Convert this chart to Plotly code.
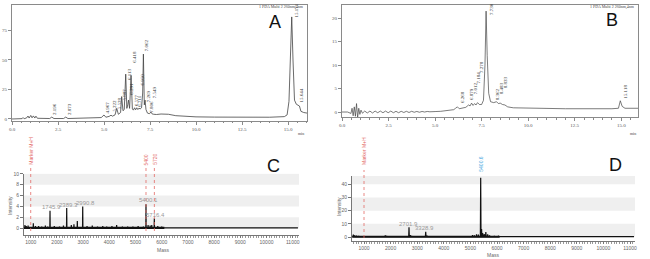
import plotly.graph_objects as go

# ---------------- Panel A : chromatogram ----------------
a_time = [
    0.00, 0.40, 0.55, 0.60, 0.66, 0.80, 0.87, 0.93, 1.02, 1.09,
    1.16, 1.24, 1.30, 1.38, 1.60, 2.05, 2.16, 2.28, 2.80, 2.92,
    3.04, 3.60, 4.40, 4.85, 5.00, 5.10, 5.28, 5.38, 5.46, 5.60,
    5.69, 5.78, 5.90, 5.96, 6.03, 6.10, 6.18, 6.24, 6.29, 6.33,
    6.39, 6.47, 6.54, 6.60, 6.66, 6.72, 6.78, 6.84, 6.90, 6.96,
    7.04, 7.10, 7.14, 7.19, 7.23, 7.28, 7.36, 7.46, 7.56, 7.62,
    7.70, 7.85, 8.10, 8.50, 8.90, 9.40, 10.0, 11.0, 12.5, 14.0,
    14.8, 14.95, 15.05, 15.13, 15.20, 15.27, 15.35, 15.45, 15.55, 15.62,
    15.70, 15.85, 16.03]
a_abs = [
    0.0, 0.0, 0.3, 1.2, 0.2, 1.0, 2.5, 0.8, 3.0, 1.0,
    2.6, 0.8, 2.4, 0.6, 0.4, 0.4, 1.6, 0.4, 0.4, 1.6,
    0.4, 0.5, 0.8, 1.2, 3.4, 1.5, 2.2, 3.2, 2.4, 3.5,
    9.0, 4.0, 5.5, 19.0, 7.0, 8.0, 38.0, 9.0, 12.0, 16.0,
    9.0, 37.0, 8.5, 7.5, 9.5, 7.8, 9.5, 8.0, 9.2, 8.5,
    9.5, 22.0, 55.0, 12.0, 16.0, 8.0, 5.0, 4.5, 5.8, 4.2,
    4.0, 3.8, 4.2, 4.0, 2.8, 2.2, 1.8, 1.6, 1.5, 1.5,
    2.0, 3.5, 15.0, 60.0, 86.5, 50.0, 16.0, 12.5, 12.0, 11.0,
    6.5, 5.5, 5.0]
a_lbl_text = ["2.196", "2.873", "4.967", "5.222", "5.528", "5.887", "6.113", "6.291",
              "6.418", "6.577", "6.711", "6.950", "7.062", "7.269", "7.549", "7.806",
              "15.171", "15.644"]
a_lbl_time = [2.34, 3.15, 5.24, 5.56, 5.85, 6.09, 6.38, 6.47,
              6.68, 6.78, 6.92, 7.08, 7.28, 7.46, 7.72, 7.59,
              15.47, 15.74]
a_lbl_abs = [1.7, 1.7, 3.4, 4.8, 6.2, 14.0, 31.6, 19.0,
             46.0, 9.0, 9.0, 27.0, 55.7, 12.7, 16.0, 3.4,
             84.0, 12.0]
a_xtick_vals = [0, 2.5, 5, 7.5, 10, 12.5, 15]
a_xtick_text = ["0.0", "2.5", "5.0", "7.5", "10.0", "12.5", "15.0"]
a_ytick_vals = [0, 25, 50, 75]

# ---------------- Panel B : chromatogram ----------------
b_time = [
    0.00, 0.30, 0.48, 0.54, 0.60, 0.66, 0.72, 0.78, 0.84, 0.90,
    0.96, 1.02, 1.10, 1.22, 1.36, 1.50, 1.64, 1.78, 1.92, 2.06,
    2.20, 2.34, 2.48, 2.62, 2.76, 2.90, 3.04, 3.18, 3.32, 3.46,
    3.60, 3.74, 3.88, 4.02, 4.16, 4.30, 4.44, 4.58, 4.72, 4.86,
    5.00, 5.30, 5.70, 6.00, 6.10, 6.20, 6.30, 6.45, 6.65, 6.80,
    6.88, 6.96, 7.04, 7.12, 7.20, 7.28, 7.38, 7.50, 7.60, 7.68,
    7.74, 7.80, 7.88, 7.98, 8.15, 8.30, 8.40, 8.50, 8.62, 8.75,
    8.90, 9.20, 10.0, 12.0, 14.5, 14.85, 14.95, 15.05, 15.20, 15.50,
    15.90]
b_abs = [
    0.0, 0.0, -0.3, 0.8, -0.8, 1.1, -0.9, 1.8, -1.2, 0.8,
    -0.5, 0.4, -0.25, 0.2, -0.2, 0.2, -0.2, 0.2, -0.15, 0.2,
    -0.15, 0.2, -0.15, 0.2, -0.15, 0.15, -0.15, 0.15, -0.1, 0.15,
    -0.1, 0.15, -0.05, 0.12, -0.05, 0.12, 0.0, 0.12, 0.05, 0.12,
    0.1, 0.15, 0.3, 0.5, 0.8, 1.1, 0.7, 0.8, 1.0, 1.5,
    1.3, 1.9, 1.4, 1.8, 1.5, 2.0, 1.6, 1.6, 2.5, 10.0,
    21.5, 12.0, 4.0, 2.2, 2.0, 2.2, 1.8, 1.9, 1.6, 1.5,
    1.1, 0.9, 0.8, 0.7, 0.7, 0.8, 2.4, 1.2, 0.8, 0.8,
    0.8]
b_lbl_text = ["6.268", "6.879", "7.012", "7.184", "7.278", "7.730",
              "8.362", "8.483", "8.833", "15.118"]
b_lbl_time = [6.50, 6.95, 7.18, 7.35, 7.52, 8.02, 8.35, 8.55, 8.80, 15.25]
b_lbl_abs = [1.5, 2.2, 3.3, 5.6, 7.9, 20.3, 2.2, 3.4, 4.6, 2.4]
b_xtick_vals = [0, 2.5, 5, 7.5, 10, 12.5, 15]
b_xtick_text = ["0.0", "2.5", "5.0", "7.5", "10.0", "12.5", "15.0"]
b_ytick_vals = [0, 5, 10, 15, 20]

# ---------------- Panel C : mass spectrum ----------------
c_mass = [780, 830, 900, 1100, 1180, 1300, 1420, 1560, 1650, 1737,
          1900, 2100, 2250, 2374, 2550, 2650, 2779, 2985, 3150, 3350,
          3550, 3750, 3900, 4100, 4280, 4500, 4700, 4900, 5100, 5300,
          5400, 5480, 5560, 5620, 5718, 5850, 6000]
c_int = [0.6, 0.4, 0.5, 0.9, 0.4, 0.4, 0.3, 0.5, 0.3, 3.2,
         0.4, 0.3, 0.5, 3.7, 0.6, 0.7, 1.3, 4.0, 0.4, 0.5,
         0.3, 0.4, 0.3, 0.4, 0.6, 0.3, 0.3, 0.3, 0.4, 0.3,
         4.4, 0.6, 0.5, 0.6, 1.8, 0.4, 0.3]
c_lbl_text = ["1745.9", "2389.3", "2990.8", "5400.1", "5716.4"]
c_lbl_mass = [1800, 2460, 3100, 5500, 5780]
c_lbl_int = [3.9, 4.3, 4.7, 5.2, 2.45]
c_marker_mass = [1000, 5400, 5720]
c_marker_text = ["Marker M+H", "5400", "5720"]
c_ytick_vals = [0, 2, 4, 6, 8, 10]
c_bands = [(0, 2), (4, 6), (8, 10)]

# ---------------- Panel D : mass spectrum ----------------
d_mass = [600, 650, 720, 800, 1800, 1850, 2692, 2740, 2790, 3320,
          3370, 5080, 5150, 5230, 5300, 5387, 5420, 5460, 5520, 5580,
          5650, 5720, 5900, 6050, 10600]
d_int = [1.8, 1.2, 1.0, 0.8, 1.2, 0.8, 7.5, 1.5, 0.8, 4.0,
         1.0, 1.5, 1.2, 2.0, 1.8, 45.0, 6.0, 3.0, 2.2, 3.8,
         2.0, 1.2, 0.8, 0.6, 0.5]
d_lbl_text = ["2701.9", "3328.9"]
d_lbl_mass = [2680, 3290]
d_lbl_int = [10.0, 7.0]
d_marker_mass = [1000]
d_marker_text = ["Marker M+H"]
d_main_mass = 5387
d_main_text = "5400.6"
d_ytick_vals = [0, 10, 20, 30, 40]
d_bands = [(0, 10), (20, 30), (40, 46.3)]

mass_ticks = [1000, 2000, 3000, 4000, 5000, 6000, 7000, 8000, 9000, 10000, 11000]
mass_tick_text = ["1000", "2000", "3000", "4000", "5000", "6000", "7000", "8000", "9000", "10000", "11000"]

# ---------------- helpers ----------------
W, H = 650, 259


def fx(p):
    return p / W


def fy(p):
    return 1 - p / H


def stick_xy(masses, ints, x0, x1, base, half):
    xs, ys = [x0], [base]
    for m, h in sorted(zip(masses, ints)):
        xs += [m - half, m, m + half]
        ys += [base, h, base]
    xs.append(x1)
    ys.append(base)
    return xs, ys


fig = go.Figure()
line_col = "#444444"

fig.add_trace(go.Scatter(x=a_time, y=a_abs, mode="lines", line=dict(color=line_col, width=0.8),
                         xaxis="x", yaxis="y", hoverinfo="skip", showlegend=False))
fig.add_trace(go.Scatter(x=b_time, y=b_abs, mode="lines", line=dict(color=line_col, width=0.7),
                         xaxis="x2", yaxis="y2", hoverinfo="skip", showlegend=False))

# C
cx, cy = stick_xy(c_mass, c_int, 744, 11200, 0.05, 7)
fig.add_trace(go.Scatter(x=[744, 6100], y=[0.05, 0.05], mode="lines", line=dict(color="#111", width=2.4),
                         xaxis="x3", yaxis="y3", hoverinfo="skip", showlegend=False))
fig.add_trace(go.Scatter(x=cx, y=cy, mode="lines", line=dict(color="#111", width=1.2),
                         xaxis="x3", yaxis="y3", hoverinfo="skip", showlegend=False))
# D
dx, dy = stick_xy(d_mass, d_int, 560, 11150, 0.3, 12)
fig.add_trace(go.Scatter(x=[560, 6100], y=[0.3, 0.3], mode="lines", line=dict(color="#111", width=2.0),
                         xaxis="x4", yaxis="y4", hoverinfo="skip", showlegend=False))
fig.add_trace(go.Scatter(x=dx, y=dy, mode="lines", line=dict(color="#111", width=1.2),
                         xaxis="x4", yaxis="y4", hoverinfo="skip", showlegend=False))

axc = "#8a8a8a"
serif = dict(family="Liberation Serif", size=5, color="#555")
sans = dict(family="Liberation Sans", size=5, color="#666")


def chrom_x(dom, rng, vals, txt, anchor):
    return dict(domain=dom, range=rng, anchor=anchor, showline=True, linecolor=axc, linewidth=1,
                mirror=True, ticks="outside", ticklen=3, tickcolor=axc, tickvals=vals, ticktext=txt,
                tickfont=serif, showgrid=False, zeroline=False,
                minor=dict(tickmode="linear", tick0=0, dtick=0.5, ticks="outside", ticklen=1.5,
                           tickcolor=axc, showgrid=False))


def chrom_y(dom, rng, vals, anchor):
    return dict(domain=dom, range=rng, anchor=anchor, showline=True, linecolor=axc, linewidth=1,
                mirror=True, ticks="outside", ticklen=3, tickcolor=axc, tickvals=vals,
                tickfont=serif, showgrid=False, zeroline=False)


def mass_x(dom, rng, anchor):
    return dict(domain=dom, range=rng, anchor=anchor, showline=True, linecolor="#777", linewidth=1,
                ticks="outside", ticklen=2, tickcolor="#777", tickvals=mass_ticks, ticktext=mass_tick_text,
                tickfont=sans, showgrid=False, zeroline=False,
                minor=dict(tickmode="linear", tick0=0, dtick=100, ticks="outside", ticklen=2,
                           tickcolor="#999", showgrid=False))


def mass_y(dom, rng, vals, anchor):
    return dict(domain=dom, range=rng, anchor=anchor, showline=True, linecolor="#777", linewidth=1,
                ticks="outside", ticklen=3, tickcolor="#777", tickvals=vals,
                tickfont=sans, showgrid=False, zeroline=False)


shapes = []
for y0, y1 in c_bands:
    shapes.append(dict(type="rect", xref="x3", yref="y3", x0=744, x1=11240, y0=y0, y1=y1,
                       fillcolor="#efefef", line=dict(width=0), layer="below"))
for y0, y1 in d_bands:
    shapes.append(dict(type="rect", xref="x4", yref="y4", x0=549, x1=11188, y0=y0, y1=y1,
                       fillcolor="#efefef", line=dict(width=0), layer="below"))
for m in c_marker_mass:
    shapes.append(dict(type="line", xref="x3", yref="paper", x0=m, x1=m, y0=fy(231), y1=fy(168),
                       line=dict(color="#e36a66", width=0.8, dash="dot")))
for m in d_marker_mass:
    shapes.append(dict(type="line", xref="x4", yref="paper", x0=m, x1=m, y0=fy(238), y1=fy(170),
                       line=dict(color="#e36a66", width=0.8, dash="dot")))

ann = []
for t, v, s in zip(a_lbl_time, a_lbl_abs, a_lbl_text):
    ann.append(dict(x=t, y=v, xref="x", yref="y", text=s, showarrow=False, textangle=-90,
                    xanchor="center", yanchor="bottom", font=dict(family="Liberation Serif", size=5, color="#333")))
for t, v, s in zip(b_lbl_time, b_lbl_abs, b_lbl_text):
    ann.append(dict(x=t, y=v, xref="x2", yref="y2", text=s, showarrow=False, textangle=-90,
                    xanchor="center", yanchor="bottom", font=dict(family="Liberation Serif", size=5, color="#333")))
for m, v, s in zip(c_lbl_mass, c_lbl_int, c_lbl_text):
    ann.append(dict(x=m, y=v, xref="x3", yref="y3", text=s, showarrow=False,
                    xanchor="center", yanchor="middle", font=dict(family="Liberation Sans", size=6, color="#9a9a9a")))
for m, v, s in zip(d_lbl_mass, d_lbl_int, d_lbl_text):
    ann.append(dict(x=m, y=v, xref="x4", yref="y4", text=s, showarrow=False,
                    xanchor="center", yanchor="middle", font=dict(family="Liberation Sans", size=6, color="#9a9a9a")))
for m, s in zip(c_marker_mass, c_marker_text):
    ann.append(dict(x=m, y=fy(167), xref="x3", yref="paper", text=s, showarrow=False, textangle=-90,
                    xanchor="center", yanchor="bottom", font=dict(family="Liberation Sans", size=5, color="#e36a66")))
for m, s in zip(d_marker_mass, d_marker_text):
    ann.append(dict(x=m, y=fy(167), xref="x4", yref="paper", text=s, showarrow=False, textangle=-90,
                    xanchor="center", yanchor="bottom", font=dict(family="Liberation Sans", size=5, color="#e36a66")))
ann.append(dict(x=d_main_mass, y=fy(174), xref="x4", yref="paper", text=d_main_text, showarrow=False,
                textangle=-90, xanchor="center", yanchor="bottom",
                font=dict(family="Liberation Sans", size=5, color="#4aa8e0")))

# headers, axis titles, panel letters
for xp, yp, s, xa in [(306, 7, "1 PDA Multi 2 260nm,4nm", "right"), (637, 7, "1 PDA Multi 2 260nm,4nm", "right")]:
    ann.append(dict(x=fx(xp), y=fy(yp), xref="paper", yref="paper", text=s, showarrow=False,
                    xanchor=xa, yanchor="middle", font=dict(family="Liberation Serif", size=4, color="#444")))
for xp in (301, 633):
    ann.append(dict(x=fx(xp), y=fy(133), xref="paper", yref="paper", text="min", showarrow=False,
                    xanchor="center", yanchor="middle", font=dict(family="Liberation Serif", size=4, color="#444")))
for xp, yp in ((163, 249.5), (493, 254.5)):
    ann.append(dict(x=fx(xp), y=fy(yp), xref="paper", yref="paper", text="Mass", showarrow=False,
                    xanchor="center", yanchor="middle", font=dict(family="Liberation Sans", size=5, color="#666")))
for xp, yp in ((10, 206), (339, 207)):
    ann.append(dict(x=fx(xp), y=fy(yp), xref="paper", yref="paper", text="Intensity", showarrow=False,
                    textangle=-90, xanchor="center", yanchor="middle",
                    font=dict(family="Liberation Sans", size=5, color="#666")))
for xp, yp, s in ((275, 22, "A"), (612, 20, "B"), (273, 166, "C"), (615, 165, "D")):
    ann.append(dict(x=fx(xp), y=fy(yp), xref="paper", yref="paper", text=s, showarrow=False,
                    xanchor="center", yanchor="middle",
                    font=dict(family="Liberation Sans", size=18, color="#111")))

fig.update_layout(
    width=W, height=H, margin=dict(l=0, r=0, t=0, b=0), template="none",
    paper_bgcolor="white", plot_bgcolor="rgba(0,0,0,0)", showlegend=False,
    xaxis=chrom_x([fx(12), fx(307)], [0, 16.03], a_xtick_vals, a_xtick_text, "y"),
    yaxis=chrom_y([fy(120.7), fy(5)], [-1.45, 96.6], a_ytick_vals, "x"),
    xaxis2=chrom_x([fx(342), fx(638)], [0, 15.9], b_xtick_vals, b_xtick_text, "y2"),
    yaxis2=chrom_y([fy(117), fy(5)], [-1.06, 22.8], b_ytick_vals, "x2"),
    xaxis3=mass_x([fx(24), fx(299)], [744, 11240], "y3"),
    yaxis3=mass_y([fy(235), fy(173.5)], [-1.25, 10.05], c_ytick_vals, "x3"),
    xaxis4=mass_x([fx(352), fx(635)], [549, 11188], "y4"),
    yaxis4=mass_y([fy(241), fy(176)], [-3.0, 46.3], d_ytick_vals, "x4"),
    shapes=shapes, annotations=ann,
)

fig.write_html("out.html")
